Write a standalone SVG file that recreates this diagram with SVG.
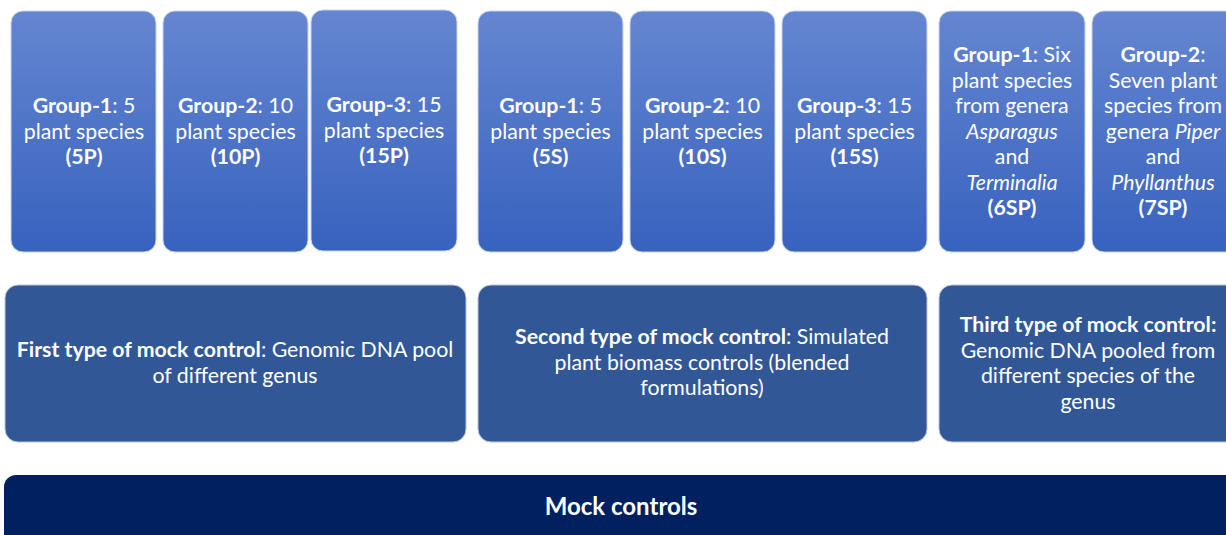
<svg xmlns="http://www.w3.org/2000/svg" width="1226" height="535" viewBox="0 0 1226 535">
<defs>
<linearGradient id="gTop" x1="0" y1="0" x2="0" y2="1">
<stop offset="0" stop-color="#6586d1"/>
<stop offset="1" stop-color="#3762be"/>
</linearGradient>
<style>
.top{fill:url(#gTop);stroke:#c9d4ee;stroke-width:1}
.mid{fill:#315796;stroke:#b8c4dc;stroke-width:1}
.bar{fill:#00205f}
text{font-family:Lato,"Open Sans","Liberation Sans",sans-serif;font-size:21.3px;fill:#ffffff;text-anchor:middle}
.b{font-weight:bold}
.i{font-style:italic}
.big{font-size:24px;font-weight:bold}
</style>
</defs>
<rect width="1226" height="535" fill="#ffffff"/>
<g id="p5">
<rect class="top" x="11" y="11" width="145" height="241" rx="12"/>
<text x="84" y="113"><tspan class="b">Group-1</tspan>: 5<tspan x="84" dy="25.5">plant species</tspan><tspan x="84" dy="25.5" class="b">(5P)</tspan></text>
</g>
<g id="p10">
<rect class="top" x="163" y="11" width="145" height="241" rx="12"/>
<text x="235.5" y="113"><tspan class="b">Group-2</tspan>: 10<tspan x="235.5" dy="25.5">plant species</tspan><tspan x="235.5" dy="25.5" class="b">(10P)</tspan></text>
</g>
<g id="p15">
<rect class="top" x="311" y="10" width="146" height="241" rx="12"/>
<text x="384" y="112"><tspan class="b">Group-3</tspan>: 15<tspan x="384" dy="25.5">plant species</tspan><tspan x="384" dy="25.5" class="b">(15P)</tspan></text>
</g>
<g id="s5">
<rect class="top" x="478" y="11" width="145" height="241" rx="12"/>
<text x="550.5" y="113"><tspan class="b">Group-1</tspan>: 5<tspan x="550.5" dy="25.5">plant species</tspan><tspan x="550.5" dy="25.5" class="b">(5S)</tspan></text>
</g>
<g id="s10">
<rect class="top" x="630" y="11" width="145" height="241" rx="12"/>
<text x="702.5" y="113"><tspan class="b">Group-2</tspan>: 10<tspan x="702.5" dy="25.5">plant species</tspan><tspan x="702.5" dy="25.5" class="b">(10S)</tspan></text>
</g>
<g id="s15">
<rect class="top" x="782" y="11" width="145" height="241" rx="12"/>
<text x="854.5" y="113"><tspan class="b">Group-3</tspan>: 15<tspan x="854.5" dy="25.5">plant species</tspan><tspan x="854.5" dy="25.5" class="b">(15S)</tspan></text>
</g>
<g id="sp6">
<rect class="top" x="939" y="11" width="146" height="241" rx="12"/>
<text x="1012" y="62"><tspan class="b">Group-1</tspan>: Six<tspan x="1012" dy="25.5">plant species</tspan><tspan x="1012" dy="25.5">from genera</tspan><tspan x="1012" dy="25.5" class="i">Asparagus</tspan><tspan x="1012" dy="25.5">and</tspan><tspan x="1012" dy="25.5" class="i">Terminalia</tspan><tspan x="1012" dy="25.5" class="b">(6SP)</tspan></text>
</g>
<g id="sp7">
<rect class="top" x="1092" y="11" width="146" height="241" rx="12"/>
<text x="1163" y="62"><tspan class="b">Group-2</tspan>:<tspan x="1163" dy="25.5">Seven plant</tspan><tspan x="1163" dy="25.5">species from</tspan><tspan x="1163" dy="25.5">genera <tspan class="i">Piper</tspan></tspan><tspan x="1163" dy="25.5">and</tspan><tspan x="1163" dy="25.5" class="i">Phyllanthus</tspan><tspan x="1163" dy="25.5" class="b">(7SP)</tspan></text>
</g>
<g id="first">
<rect class="mid" x="5" y="285" width="461" height="157" rx="13"/>
<text x="235" y="357"><tspan class="b">First type of mock control</tspan>: Genomic DNA pool<tspan x="235" dy="25.5">of different genus</tspan></text>
</g>
<g id="second">
<rect class="mid" x="478" y="285" width="449" height="157" rx="13"/>
<text x="702" y="344"><tspan class="b">Second type of mock control</tspan>: Simulated<tspan x="702" dy="25.5">plant biomass controls (blended</tspan><tspan x="702" dy="25.5">formulations)</tspan></text>
</g>
<g id="third">
<rect class="mid" x="939" y="285" width="300" height="157" rx="13"/>
<text x="1088" y="332"><tspan class="b">Third type of mock control:</tspan><tspan x="1088" dy="25.5">Genomic DNA pooled from</tspan><tspan x="1088" dy="25.5">different species of the</tspan><tspan x="1088" dy="25.5">genus</tspan></text>
</g>
<g id="mock">
<rect class="bar" x="4" y="475" width="1240" height="80" rx="12"/>
<text class="big" x="621" y="515">Mock controls</text>
</g>
<g id="connectors"></g>
</svg>
